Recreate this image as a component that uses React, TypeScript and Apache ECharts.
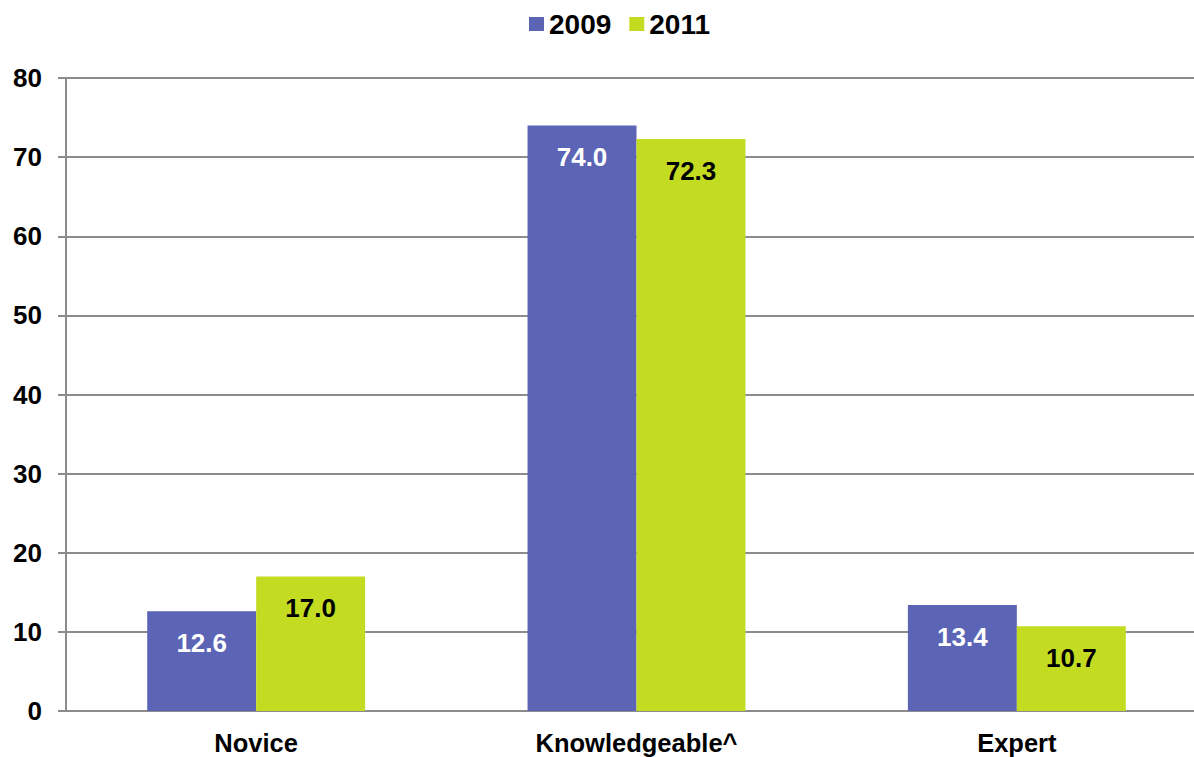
import React, { useEffect, useRef } from "react";
import * as echarts from "echarts";

const categories = ["Novice", "Knowledgeable^", "Expert"];
const series2009 = [12.6, 74.0, 13.4];
const series2011 = [17.0, 72.3, 10.7];
const yTicks = { min: 0, max: 80, interval: 10 };

export default function App() {
  const ref = useRef<HTMLDivElement>(null);
  useEffect(() => {
    const chart = echarts.init(ref.current!, null, { renderer: "svg" });
    const font = "'Liberation Sans', Arial, sans-serif";
    const fs = 26;
    chart.setOption({
      animation: false,
      textStyle: { fontFamily: font },
      legend: {
        top: 5,
        left: 524,
        itemWidth: 15,
        itemHeight: 14,
        itemGap: 18,
        icon: "rect",
        textStyle: { fontSize: 28, fontWeight: "bold", color: "#000", fontFamily: font },
        data: ["2009", "2011"],
      },
      grid: { left: 66, right: 0, top: 78, bottom: 46, containLabel: false },
      xAxis: {
        type: "category",
        data: categories,
        axisLine: { lineStyle: { color: "#8c8c8c", width: 2 } },
        axisTick: { show: false },
        axisLabel: { fontSize: 25.5, fontWeight: "bold", color: "#000", margin: 19, fontFamily: font },
      },
      yAxis: {
        type: "value",
        min: yTicks.min,
        max: yTicks.max,
        interval: yTicks.interval,
        axisLine: { show: true, lineStyle: { color: "#8c8c8c", width: 2 } },
        axisTick: { show: true, length: 8, lineStyle: { color: "#8c8c8c", width: 2 } },
        splitLine: { lineStyle: { color: "#8c8c8c", width: 2 } },
        axisLabel: { fontSize: fs, fontWeight: "bold", color: "#000", margin: 24, fontFamily: font },
      },
      series: [
        {
          name: "2009",
          type: "bar",
          data: series2009,
          barGap: "0%",
          barCategoryGap: "42.7%",
          itemStyle: { color: "#5B64B5" },
          label: {
            show: true,
            position: "insideTop",
            distance: 19,
            color: "#fff",
            fontSize: fs,
            fontWeight: "bold",
            fontFamily: font,
            formatter: (p: any) => p.value.toFixed(1),
          },
        },
        {
          name: "2011",
          type: "bar",
          data: series2011,
          barGap: "0%",
          barCategoryGap: "42.7%",
          itemStyle: { color: "#C3DC22" },
          label: {
            show: true,
            position: "insideTop",
            distance: 19,
            color: "#000",
            fontSize: fs,
            fontWeight: "bold",
            fontFamily: font,
            formatter: (p: any) => p.value.toFixed(1),
          },
        },
      ],
    });
    return () => chart.dispose();
  }, []);
  return (
    <div style={{ width: 1194, height: 757, position: "absolute", left: 0, top: 0, overflow: "hidden" }}>
      <div ref={ref} style={{ width: 1207, height: 757 }} />
    </div>
  );
}
